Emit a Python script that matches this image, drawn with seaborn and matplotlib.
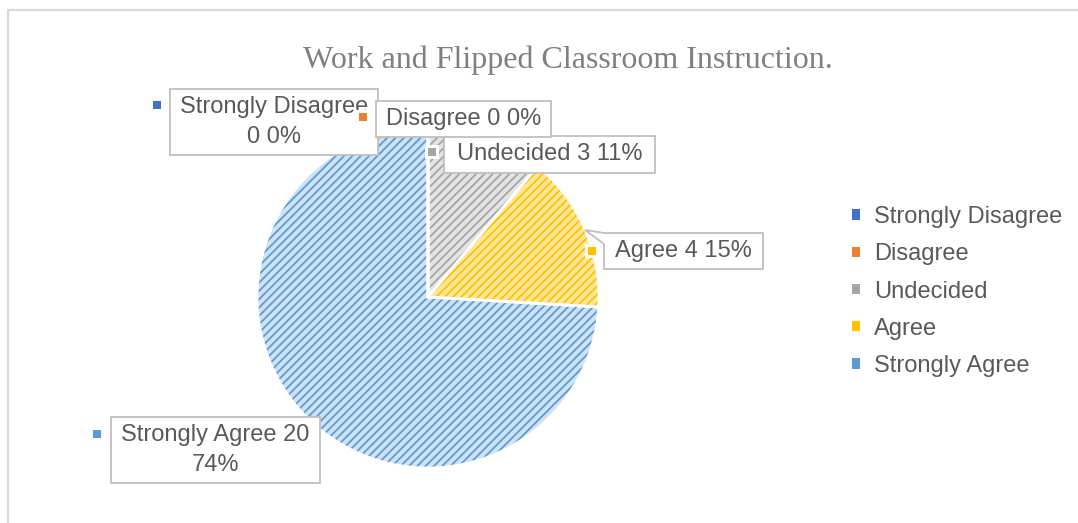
import numpy as np
import matplotlib
matplotlib.use("Agg")
import matplotlib.pyplot as plt
import seaborn as sns
from matplotlib.patches import Rectangle, Polygon, Patch

# ---- data ----
categories = ["Strongly Disagree", "Disagree", "Undecided", "Agree", "Strongly Agree"]
counts = [0, 0, 3, 4, 20]
title = "Work and Flipped Classroom Instruction."

# ---- style ----
sns.set_theme(style="white")
plt.rcParams['font.family'] = ['Liberation Sans', 'DejaVu Sans']
plt.rcParams['hatch.linewidth'] = 1.3

hatch_cols = ["#4472c4", "#ed7d31", "#a5a5a5", "#ffc000", "#5b9bd5"]
face_cols = ["#b4c7e7", "#f8cbad", "#e4e4e4", "#ffe699", "#cfe2f5"]
TXT = "#595959"
EDGE = "#bfbfbf"
FS = 17

W, H = 1078, 523
fig = plt.figure(figsize=(W / 100, H / 100), dpi=100)
ax = fig.add_axes([0, 0, 1, 1])


def py(y):
    return H - y


CX, CY, R = 428, 297, 171

wedges, _ = ax.pie(counts, startangle=90, counterclock=False,
                   center=(CX, py(CY)), radius=R, colors=face_cols,
                   wedgeprops=dict(linewidth=0))
for w, hc in zip(wedges, hatch_cols):
    w.set_hatch('////')
    w.set_edgecolor(hc)
    w.set_linewidth(0)
# white separators
ax.pie(counts, startangle=90, counterclock=False, center=(CX, py(CY)), radius=R,
       wedgeprops=dict(fill=False, edgecolor='white', linewidth=2))

ax.set_xlim(0, W)
ax.set_ylim(0, H)
ax.axis('off')

# chart frame
ax.add_patch(Rectangle((8, -100), 1300, 613, fill=False, ec='#d9d9d9', lw=1.6, zorder=0))

# title
ax.text(568, py(60), title, family=['Liberation Serif', 'DejaVu Serif'], size=23,
        color='#7f7f7f', ha='center', va='center')

total = sum(counts)
pcts = [round(100 * c / total) for c in counts]

# layout of data labels (pixel boxes) -- layout only
label_boxes = {
    4: (111, 417, 320, 483, True, (97, 434)),
    3: (604, 233, 763, 269, False, (592, 251)),
    2: (444, 136, 655, 173, False, (432, 152)),
    0: (170, 89, 378, 155, True, (157, 105)),
    1: (376, 101, 551, 137, False, (363, 117)),
}
z = 5
for i in [4, 3, 2, 0, 1]:
    x0, y0, x1, y1, two, (mx, my) = label_boxes[i]
    if i == 3:
        pts = [(585, 230), (604, 233), (763, 233), (763, 269), (604, 269), (604, 244)]
        ax.add_patch(Polygon([(x, py(y)) for x, y in pts], closed=True, fc='white',
                             ec=EDGE, lw=1.3, zorder=z))
    else:
        ax.add_patch(Rectangle((x0, py(y1)), x1 - x0, y1 - y0, fc='white', ec=EDGE,
                               lw=1.3, zorder=z))
    if two:
        if i == 0:
            s = f"{categories[i]}\n{counts[i]} {pcts[i]}%"
        else:
            s = f"{categories[i]} {counts[i]}\n{pcts[i]}%"
    else:
        s = f"{categories[i]} {counts[i]} {pcts[i]}%"
    ax.text((x0 + x1) / 2, py((y0 + y1) / 2), s, ha='center', va='center',
            fontsize=FS, color=TXT, linespacing=1.5, zorder=z + 0.5)
    # marker with white surround
    ax.add_patch(Rectangle((mx - 7, py(my) - 7), 14, 14, fc='white', ec='none', zorder=z + 0.6))
    ax.add_patch(Rectangle((mx - 4, py(my) - 4), 8, 8, fc=hatch_cols[i], ec='none', zorder=z + 0.7))
    z += 1

handles = [Patch(facecolor=hatch_cols[i], edgecolor='none', linewidth=0,
                 label=categories[i]) for i in range(len(categories))]
leg = ax.legend(handles=handles, loc='center left',
                bbox_to_anchor=(852 / W, py(291.5) / H), frameon=False,
                fontsize=FS, labelcolor=TXT, handlelength=0.32, handleheight=0.32,
                handletextpad=0.6, labelspacing=0.64, borderpad=0, borderaxespad=0)

fig.savefig("out.png", dpi=100)
